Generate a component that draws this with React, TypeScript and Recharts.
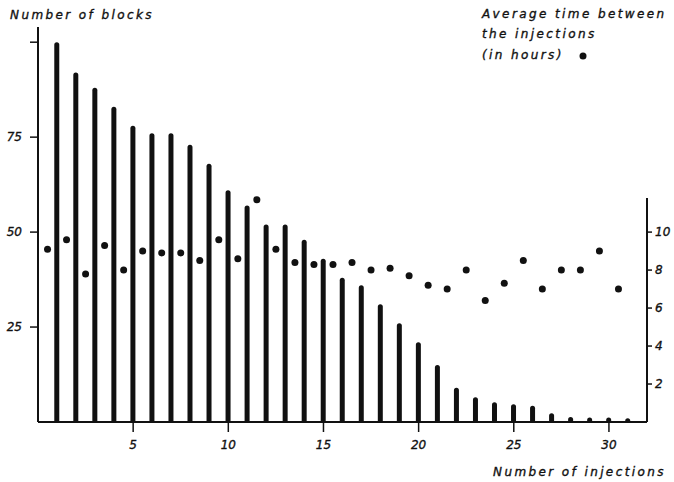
import React from 'react';
import { ComposedChart, Bar, Scatter, XAxis, YAxis, ReferenceLine } from 'recharts';

const injections = [1, 2, 3, 4, 5, 6, 7, 8, 9, 10, 11, 12, 13, 14, 15, 16, 17, 18, 19, 20, 21, 22, 23, 24, 25, 26, 27, 28, 29, 30, 31];
const blocks = [100, 92, 88, 83, 78, 76, 76, 73, 68, 61, 57, 52, 52, 48, 43, 38, 36, 31, 26, 21, 15, 9, 6.5, 5.2, 4.7, 4.3, 2.3, 1.3, 1.2, 1.2, 1];
const timePositions = [0.5, 1.5, 2.5, 3.5, 4.5, 5.5, 6.5, 7.5, 8.5, 9.5, 10.5, 11.5, 12.5, 13.5, 14.5, 15.5, 16.5, 17.5, 18.5, 19.5, 20.5, 21.5, 22.5, 23.5, 24.5, 25.5, 26.5, 27.5, 28.5, 29.5, 30.5];
const avgHours = [9.1, 9.6, 7.8, 9.3, 8.0, 9.0, 8.9, 8.9, 8.5, 9.6, 8.6, 11.7, 9.1, 8.4, 8.3, 8.3, 8.4, 8.0, 8.1, 7.7, 7.2, 7.0, 8.0, 6.4, 7.3, 8.5, 7.0, 8.0, 8.0, 9.0, 7.0];
const xTicks = [5, 10, 15, 20, 25, 30];
const leftTicks = [25, 50, 75, 100];
const rightTicks = [2, 4, 6, 8, 10];

const barData = injections.map((x, i) => ({ x, blocks: blocks[i] }));
const dotData = timePositions.map((x, i) => ({ x, hours: avgHours[i] }));

const FONT = '"DejaVu Sans", sans-serif';
const INK = '#111';
const tickStyle = { fontFamily: FONT, fontStyle: 'italic', fontSize: 12, fill: INK, stroke: INK, strokeWidth: 0.35 };

const BarShape = (props: any) => {
  const { x, y, width, height } = props;
  if (height == null || height <= 0) return null;
  const r = width / 2;
  return (
    <path
      d={`M${x},${y + height} L${x},${y + r} A${r},${r} 0 0 1 ${x + width},${y + r} L${x + width},${y + height} Z`}
      fill={INK}
    />
  );
};

const Dot = (props: any) => {
  const { cx, cy } = props;
  return <circle cx={cx} cy={cy} r={3.5} fill={INK} />;
};

const textStyle: any = { fontFamily: FONT, fontStyle: 'italic', fontSize: 12, fill: INK, stroke: INK, strokeWidth: 0.35, letterSpacing: 2.4 };

export default function App() {
  return (
    <div style={{ position: 'absolute', left: 0, top: 0, width: 674, height: 482, background: '#fff' }}>
      <ComposedChart
        width={674}
        height={482}
        data={barData}
        margin={{ top: 27, right: 0, bottom: 0, left: 0 }}
      >
        <XAxis
          dataKey="x"
          type="number"
          domain={[0, 32]}
          ticks={xTicks}
          allowDataOverflow
          height={60}
          tickSize={10}
          tickMargin={8}
          tick={tickStyle}
          axisLine={{ stroke: INK, strokeWidth: 2 }}
          tickLine={{ stroke: INK, strokeWidth: 1.5 }}
        />
        <YAxis
          yAxisId="left"
          orientation="left"
          type="number"
          domain={[0, 104]}
          ticks={leftTicks}
          width={38}
          tickSize={8}
          tickMargin={8}
          tick={tickStyle}
          tickFormatter={(v: number) => (v === 100 ? '' : String(v))}
          axisLine={{ stroke: INK, strokeWidth: 2 }}
          tickLine={{ stroke: INK, strokeWidth: 1.5 }}
        />
        <YAxis
          yAxisId="right"
          orientation="right"
          type="number"
          domain={[0, 20.8]}
          ticks={rightTicks}
          width={27}
          tickSize={5}
          tickMargin={3}
          tick={tickStyle}
          axisLine={false}
          tickLine={{ stroke: INK, strokeWidth: 1.5 }}
        />
        <ReferenceLine
          yAxisId="right"
          segment={[{ x: 32, y: 0 }, { x: 32, y: 11.8 }]}
          stroke={INK}
          strokeWidth={2}
          ifOverflow="visible"
        />
        <Bar
          yAxisId="left"
          dataKey="blocks"
          barSize={5}
          shape={<BarShape />}
          isAnimationActive={false}
        />
        <Scatter
          yAxisId="right"
          data={dotData}
          dataKey="hours"
          shape={<Dot />}
          isAnimationActive={false}
        />
      </ComposedChart>
      <svg width={674} height={482} style={{ position: 'absolute', left: 0, top: 0, pointerEvents: 'none' }}>
        <text x={10} y={19} style={textStyle}>Number of blocks</text>
        <text x={482} y={18} style={textStyle}>Average time between</text>
        <text x={482} y={38} style={textStyle}>the injections</text>
        <text x={482} y={59} style={textStyle}>(in hours)</text>
        <circle cx={583} cy={56} r={3.5} fill={INK} />
        <text x={493} y={476} style={textStyle}>Number of injections</text>
      </svg>
    </div>
  );
}
